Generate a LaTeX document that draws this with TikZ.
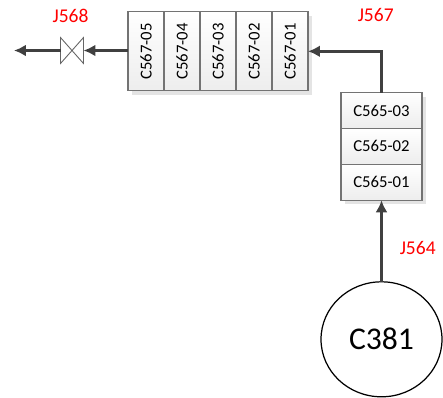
\documentclass[tikz,border=0pt]{standalone}
\usepackage{fontspec}
\setmainfont{Carlito}
\usetikzlibrary{arrows.meta,shapes.geometric,shadows}
\definecolor{flowgray}{HTML}{404040}
\definecolor{shadowgray}{HTML}{E4E4E4}
\tikzset{
    vessel/.style={draw=black!55, line width=0.7pt, inner sep=0pt, outer sep=0pt, top color=white, bottom color=black!7,
        drop shadow={shadow xshift=0.08cm, shadow yshift=-0.08cm, fill=shadowgray, opacity=1},
        font=\fontsize{9.5pt}{11pt}\selectfont},
    hbox/.style={vessel, minimum width=1.62cm, minimum height=0.72cm},
    vbox/.style={vessel, rotate=90, minimum width=1.58cm, minimum height=0.72cm},
    stream/.style={draw=flowgray, line width=1.4pt, -{Latex[length=0.24cm, width=0.24cm]}},
    tag/.style={text=red, font=\fontsize{11.1pt}{13pt}\selectfont, inner sep=0pt},
}
\begin{document}
\begin{tikzpicture}[x=0.02cm, y=-0.02cm]
    \useasboundingbox (0,0) rectangle (443,397);
    % Horizontal train at the top
    \node[vbox] (c56705) at (146,51.3) {C567-05};
    \node[vbox] (c56704) at (182,51.3) {C567-04};
    \node[vbox] (c56703) at (218,51.3) {C567-03};
    \node[vbox] (c56702) at (254,51.3) {C567-02};
    \node[vbox] (c56701) at (290,51.3) {C567-01};
    % Vertical stack on the right
    \node[hbox] (c56503) at (381.5,110.5) {C565-03};
    \node[hbox] (c56502) at (381.5,146.3) {C565-02};
    \node[hbox] (c56501) at (381.5,182.3) {C565-01};
    % Feed vessel
    \node[draw=black, line width=0.7pt, ellipse, minimum width=2.42cm, minimum height=2.3cm, inner sep=0pt, outer sep=0pt,
        font=\fontsize{18pt}{20pt}\selectfont] (c381) at (381.5,339.3) {C381};
    % Valve
    \node[minimum width=0.46cm, minimum height=0.52cm, inner sep=0pt, outer sep=0pt] (valve) at (72,50.5) {};
    \fill[shadowgray, xshift=0.08cm, yshift=-0.08cm] (valve.south west) -- (valve.north east) -- (valve.south east) -- (valve.north west) -- cycle;
    \draw[black!60, fill=white, line width=0.5pt] (valve.south west) -- (valve.north east) -- (valve.south east) -- (valve.north west) -- cycle;
    \coordinate (outlet) at (14,50.5);
    \coordinate (bend) at (c56503.north |- c56701.south);
    % Streams
    \draw[stream] (c56705.north |- valve.east) -- (valve.east);
    \draw[stream] (valve.west) -- (outlet);
    \draw[stream] (c56503.north) -- (bend) -- (c56701.south);
    \draw[stream] (c381.north) -- (c56501.south);
    % Stream labels
    \node[tag] (j568) at (70.5,16) {J568};
    \node[tag] (j567) at (375.7,15) {J567};
    \node[tag] (j564) at (417.7,248) {J564};
\end{tikzpicture}
\end{document}
